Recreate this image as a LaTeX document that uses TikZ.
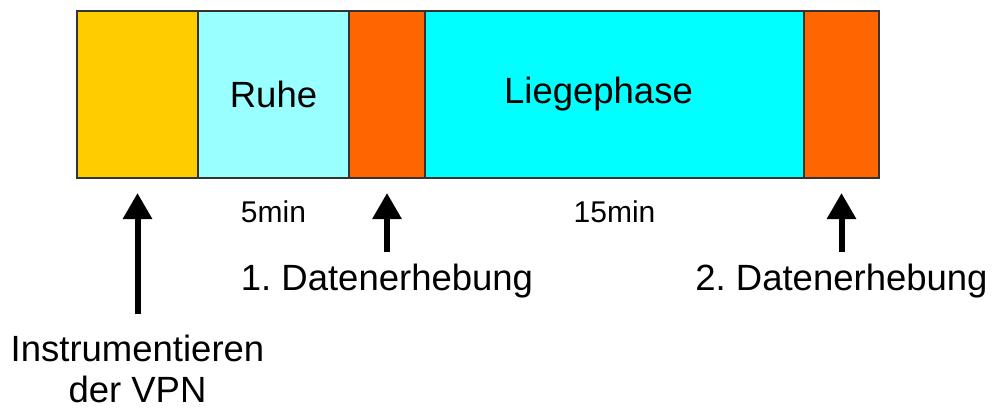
\documentclass[tikz,border=0pt]{standalone}
\usepackage{fontspec}
\setmainfont{Liberation Sans}
\usetikzlibrary{arrows.meta}
\frenchspacing

\definecolor{gelb}{HTML}{FFCC00}
\definecolor{hellcyan}{HTML}{99FFFF}
\definecolor{rotorange}{HTML}{FF6600}
\definecolor{tuerkis}{HTML}{00FFFF}

\tikzset{
  phase/.style={draw=black!80, line width=1.4pt, minimum height=167pt,
    inner sep=0pt, outer sep=0pt},
  gross/.style={font=\fontsize{36.5}{41}\selectfont, inner sep=0pt},
  klein/.style={font=\fontsize{30}{34.5}\selectfont, inner sep=0pt},
  pfeil/.style={line width=6pt, -{Triangle[width=28pt,length=26pt]}},
}

\begin{document}
\begin{tikzpicture}[x=1pt,y=-1pt]
  \useasboundingbox (0,0) rectangle (996,407);
  % Zeitstrahl aus fuenf Abschnitten
  \foreach \name/\xa/\breite/\col in {vorb/77/121/gelb, ruhe/198/151/hellcyan,
      erh1/349/76/rotorange, liege/425/379/tuerkis, erh2/804/75/rotorange}
    \node[phase, fill=\col, minimum width=\breite pt, anchor=north west]
      (\name) at (\xa,11) {};
  \node[gross] (truhe) at (ruhe) {Ruhe};
  \node[gross, xshift=-16pt] (tliege) at (liege) {Liegephase};
  % Dauer unter den Abschnitten
  \node[klein, anchor=base] (d5) at (ruhe.south |- 0,222) {5min};
  \node[klein, anchor=base] (d15) at (liege.south |- 0,222) {15min};
  % Zeitpunkte
  \node[gross, anchor=base] (m1) at (erh1.south |- 0,290) {1. Datenerhebung};
  \node[gross, anchor=base] (m2) at (erh2.south |- 0,290) {2. Datenerhebung};
  \node[gross, anchor=north, align=center] (inst) at (vorb.south |- 0,335)
    {Instrumentieren\\der VPN};
  \draw[pfeil, shorten <=21pt, shorten >=15pt] (inst.north) -- (vorb.south);
  \draw[pfeil, shorten <=11pt, shorten >=15pt] (m1.north) -- (erh1.south);
  \draw[pfeil, shorten <=11pt, shorten >=15pt] (m2.north) -- (erh2.south);
\end{tikzpicture}
\end{document}
